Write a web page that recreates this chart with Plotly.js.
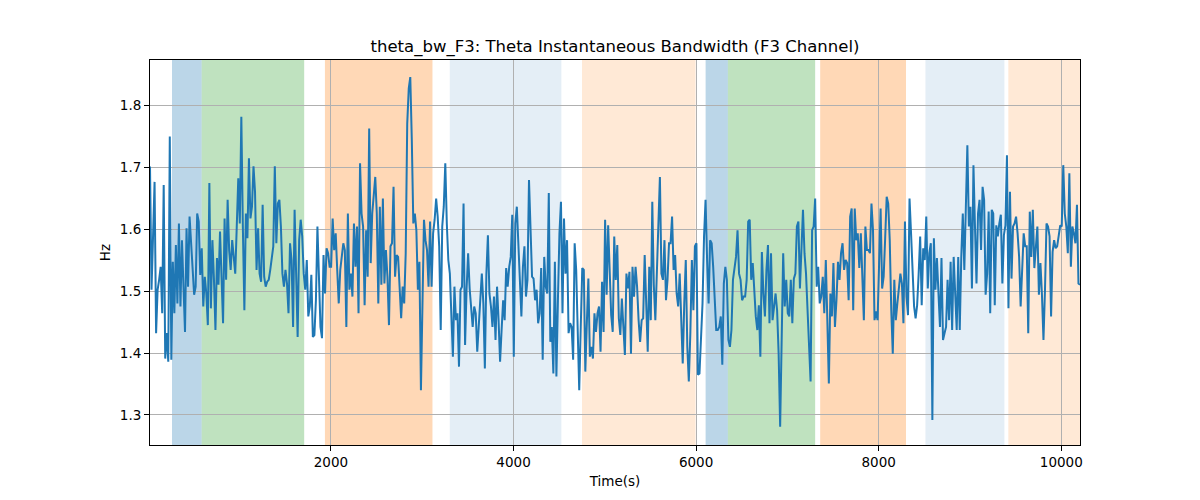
<!DOCTYPE html>
<html>
<head>
<meta charset="utf-8">
<script src="https://cdn.plot.ly/plotly-3.0.1.min.js"></script>
<style>body{margin:0;background:#fff;}</style>
</head>
<body>
<div id="chart" style="width:1200px;height:500px;"></div>
<script>
// sampling grid of the recording (seconds)
var tStart = 18;
var tEnd = 10205;

// theta instantaneous bandwidth, F3 channel (Hz)
var bandwidth = [
  1.701,1.502,1.588,1.676,1.432,1.502,1.518,1.539,1.464,1.671,1.391,1.432,1.386,1.749,1.389,1.547,1.464,1.574,1.480,1.609,
  1.475,1.582,1.507,1.434,1.601,1.507,1.620,1.577,1.528,1.494,1.507,1.625,1.612,1.526,1.569,1.475,1.523,1.496,1.445,1.674,
  1.472,1.582,1.520,1.437,1.553,1.510,1.596,1.528,1.448,1.617,1.518,1.647,1.566,1.534,1.582,1.555,1.528,1.604,1.682,1.609,
  1.781,1.604,1.469,1.625,1.585,1.714,1.617,1.636,1.701,1.660,1.534,1.601,1.528,1.515,1.639,1.523,1.507,1.515,1.518,1.534,
  1.555,1.572,1.701,1.577,1.641,1.647,1.604,1.528,1.507,1.534,1.512,1.464,1.577,1.550,1.442,1.631,1.528,1.426,1.582,1.615,
  1.588,1.528,1.502,1.550,1.459,1.475,1.526,1.426,1.429,1.485,1.604,1.518,1.442,1.424,1.558,1.496,1.569,1.561,1.539,1.539,
  1.617,1.566,1.593,1.534,1.480,1.534,1.561,1.577,1.566,1.442,1.625,
  // second stretch
  1.502,1.528,1.491,1.609,1.539,1.604,1.464,1.706,1.625,1.604,1.477,1.598,1.523,1.762,1.545,1.625,1.652,1.684,1.625,1.480,
  1.636,1.510,1.649,1.512,1.566,1.523,1.445,1.572,1.577,1.668,1.523,1.558,1.555,1.510,1.456,1.507,1.480,1.561,1.770,1.827,
  1.845,1.744,1.609,1.625,1.598,1.502,1.547,1.340,1.485,1.615,1.582,1.566,1.507,1.612,1.507,1.593,1.615,1.649,1.620,1.572,
  1.437,1.604,1.636,1.706,1.609,1.550,1.528,1.448,1.394,1.507,1.453,1.464,1.378,1.502,1.507,1.641,1.413,1.504,1.561,1.504,
  1.475,1.442,1.475,1.464,1.402,1.448,1.496,1.528,1.480,1.375,1.528,1.590,1.496,1.475,1.442,1.491,1.421,1.507,1.453,1.386,
  1.437,1.485,1.453,1.537,1.507,1.539,1.555,1.623,1.394,1.609,1.636,1.582,1.528,1.459,1.539,1.572,1.491,1.518,1.679,1.609,
  1.523,1.520,
  // third stretch
  1.485,1.502,1.448,1.464,1.537,1.389,1.555,1.507,1.496,1.658,1.418,1.442,1.367,1.547,1.362,1.485,1.593,1.644,1.464,1.617,
  1.528,1.582,1.432,1.448,1.442,1.389,1.577,1.534,1.442,1.340,1.442,1.537,1.534,1.370,1.448,1.520,1.394,1.410,1.391,1.464,
  1.434,1.464,1.475,1.402,1.515,1.434,1.615,1.494,1.606,1.518,1.461,1.434,1.588,1.518,1.574,1.456,1.429,1.488,1.429,1.397,
  1.528,1.504,1.531,1.399,1.539,1.491,1.539,1.507,1.453,1.418,1.453,1.456,1.558,1.459,1.402,1.539,1.453,1.644,1.510,1.453,
  1.534,1.601,1.684,1.528,1.518,1.582,1.485,1.518,1.577,1.577,1.620,1.534,1.558,1.496,1.475,1.528,1.469,1.383,1.480,1.550,
  1.410,1.354,1.432,1.550,1.469,1.572,1.577,1.365,1.367,1.426,1.480,1.588,1.647,1.550,1.480,1.582,1.577,1.539,1.496,1.437,
  1.437,1.442,
  // fourth stretch
  1.459,1.381,1.512,1.539,1.518,1.421,1.410,1.437,1.518,1.534,1.555,1.598,1.528,1.518,1.485,1.491,1.491,1.518,1.612,1.615,
  1.518,1.545,1.502,1.459,1.437,1.477,1.394,1.563,1.496,1.459,1.534,1.574,1.448,1.561,1.453,1.475,1.496,1.469,1.399,1.281,
  1.410,1.561,1.475,1.518,1.464,1.459,1.518,1.448,1.520,1.528,1.604,1.612,1.504,1.572,1.631,1.561,1.528,1.469,1.421,1.354,
  1.598,1.604,1.649,1.507,1.539,1.480,1.491,1.523,1.464,1.550,1.453,1.351,1.496,1.459,1.545,1.442,1.485,1.547,1.518,1.561,
  1.577,1.534,1.550,1.545,1.485,1.620,1.633,1.469,1.633,1.582,1.593,1.537,1.593,1.534,1.453,1.604,1.566,1.566,1.561,1.641,
  1.598,1.453,1.467,1.453,1.528,1.633,1.504,1.523,1.585,1.652,1.641,1.582,1.469,1.399,1.518,1.453,1.480,1.502,1.528,1.512,
  // fifth stretch
  1.448,1.612,1.491,1.461,1.649,1.593,1.539,1.475,1.456,1.477,1.528,1.588,1.477,1.569,1.550,1.620,1.504,1.561,1.577,1.292,
  1.585,1.502,1.553,1.496,1.442,1.553,1.421,1.432,1.442,1.518,1.453,1.547,1.437,1.555,1.496,1.437,1.555,1.437,1.555,1.625,
  1.534,1.628,1.735,1.604,1.636,1.504,1.703,1.604,1.512,1.625,1.647,1.566,1.668,1.647,1.494,1.528,1.628,1.464,1.631,1.625,
  1.477,1.606,1.588,1.609,1.623,1.512,1.590,1.606,1.719,1.472,1.660,1.520,1.604,1.609,1.620,1.593,1.555,1.475,1.553,1.593,
  1.572,1.572,1.432,1.628,1.555,1.631,1.537,1.569,1.604,1.494,1.545,1.494,1.421,1.502,1.609,1.604,1.588,1.459,1.563,1.582,
  1.569,1.572,1.593,1.606,1.604,1.703,1.625,1.604,1.561,1.690,1.539,1.604,1.593,1.577,1.639,1.512,1.510
];

// shaded task periods
var spanStart = [259, 584, 1934, 3302, 4750, 6104, 6348, 7359, 8512, 9420];
var spanEnd   = [584, 1707, 3112, 4524, 5994, 6348, 7304, 8299, 9377, 10300];
var spanColor = ['#1f77b4', '#2ca02c', '#ff7f0e', '#1f77b4', '#ff7f0e',
                 '#1f77b4', '#2ca02c', '#ff7f0e', '#1f77b4', '#ff7f0e'];
var spanAlpha = [0.3, 0.3, 0.3, 0.12, 0.17, 0.3, 0.3, 0.3, 0.12, 0.17];

var shapes = [];
for (var i = 0; i < spanStart.length; i++) {
  shapes.push({
    type: 'rect', xref: 'x', yref: 'paper',
    x0: spanStart[i], x1: spanEnd[i], y0: 0, y1: 1,
    fillcolor: spanColor[i], opacity: spanAlpha[i],
    line: {width: 0}, layer: 'below'
  });
}

var bw_plot = {
  y: bandwidth,
  x0: tStart,
  dx: (tEnd - tStart) / (bandwidth.length - 1),
  mode: 'lines',
  line: {color: '#1f77b4', width: 2},
  type: 'scatter'
};

var font = 'DejaVu Sans, sans-serif';
var layout = {
  width: 1200, height: 500,
  margin: {l: 150, r: 120, t: 60, b: 55},
  paper_bgcolor: '#fff', plot_bgcolor: '#fff',
  showlegend: false,
  font: {family: font, size: 13.5, color: '#000'},
  title: {
    text: 'theta_bw_F3: Theta Instantaneous Bandwidth (F3 Channel)',
    font: {family: font, size: 16.5, color: '#000'},
    x: 0.5125, xanchor: 'center', y: 0.908, yanchor: 'middle'
  },
  xaxis: {
    range: [tStart, tEnd],
    tickvals: [2000, 4000, 6000, 8000, 10000],
    ticktext: ['2000', '4000', '6000', '8000', '10000'],
    showgrid: true, gridcolor: '#b0b0b0', gridwidth: 1,
    zeroline: false,
    showline: true, mirror: true, linecolor: '#000', linewidth: 1,
    ticks: 'outside', ticklen: 5, tickwidth: 1, tickcolor: '#000',
    title: {text: 'Time(s)', font: {family: font, size: 13.5}, standoff: 7}
  },
  yaxis: {
    range: [1.2516, 1.8726],
    tickvals: [1.3, 1.4, 1.5, 1.6, 1.7, 1.8],
    ticktext: ['1.3', '1.4', '1.5', '1.6', '1.7', '1.8'],
    showgrid: true, gridcolor: '#b0b0b0', gridwidth: 1,
    zeroline: false,
    showline: true, mirror: true, linecolor: '#000', linewidth: 1,
    ticks: 'outside', ticklen: 5, tickwidth: 1, tickcolor: '#000',
    title: {text: 'Hz', font: {family: font, size: 13.5}, standoff: 6}
  },
  shapes: shapes
};

Plotly.newPlot('chart', [bw_plot], layout, {displayModeBar: false});
</script>
</body>
</html>
